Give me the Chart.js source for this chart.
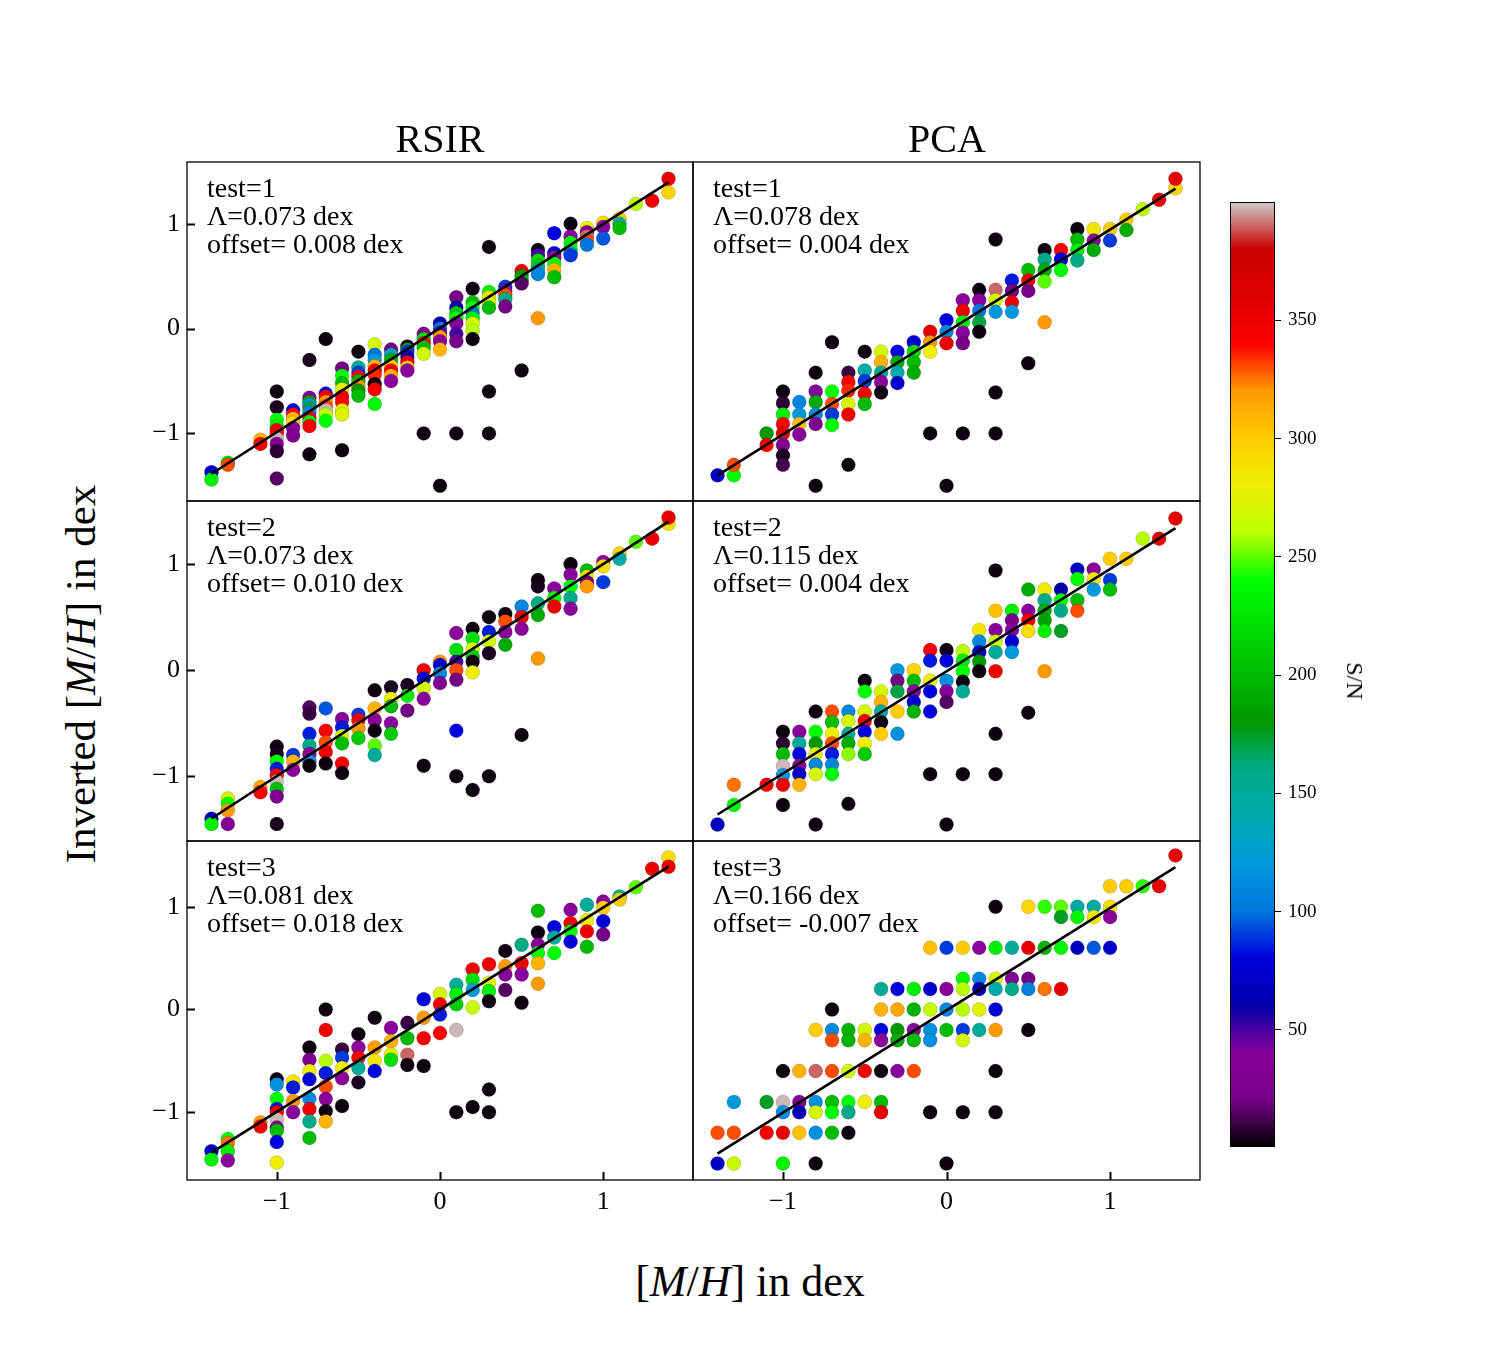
<!DOCTYPE html>
<html>
<head>
<meta charset="utf-8">
<script src="https://cdn.jsdelivr.net/npm/chart.js@4.4.0/dist/chart.umd.min.js"></script>
<style>
body{margin:0;background:#fff;}
#fig{position:relative;width:1500px;height:1350px;overflow:hidden;font-family:"Liberation Serif",serif;color:#000;}
#fig canvas{position:absolute;}
.txt{position:absolute;white-space:nowrap;line-height:1;}
</style>
</head>
<body>
<div id="fig"></div>
<script>
// labels / stats
var testLabels = ['test=1','test=2','test=3'];
var rsirLambda = ['0.073','0.073','0.081'];
var rsirOffset = ['0.008','0.010','0.018'];
var pcaLambda = ['0.078','0.115','0.166'];
var pcaOffset = ['0.004','0.004','-0.007'];
var xTicks = [-1,0,1];
var yTicks = [-1,0,1];
var snTicks = [50,100,150,200,250,300,350];
var snMin = 0.5, snMax = 400;
var xMin = -1.55, xMax = 1.55;
var rowYMin = [-1.645,-1.61,-1.66];
var rowYMax = [1.59,1.595,1.64];

// fitted lines [x0,y0,x1,y1]
var rsirFits = [[-1.4,-1.385,1.4,1.395],[-1.4,-1.398,1.4,1.40],[-1.4,-1.394,1.4,1.39]];
var pcaFits = [[-1.4,-1.40,1.4,1.335],[-1.4,-1.36,1.4,1.34],[-1.4,-1.404,1.4,1.385]];

// points: [true [M/H], inverted [M/H], S/N]
var rsirTest1 = [
[-1.4,-1.37,70],[-1.4,-1.44,230],
[-1.3,-1.28,220],[-1.3,-1.30,330],
[-1.1,-1.06,310],[-1.1,-1.10,345],
[-1.0,-0.60,3],[-1.0,-0.75,5],[-1.0,-0.87,240],[-1.0,-0.93,230],[-1.0,-0.97,350],[-1.0,-1.00,340],[-1.0,-1.05,398],[-1.0,-1.10,30],[-1.0,-1.17,8],[-1.0,-1.43,15],
[-0.9,-0.78,80],[-0.9,-0.82,340],[-0.9,-0.86,310],[-0.9,-0.90,290],[-0.9,-0.95,40],[-0.9,-1.02,30],
[-0.8,-0.30,5],[-0.8,-0.66,40],[-0.8,-0.70,180],[-0.8,-0.73,120],[-0.8,-0.76,170],[-0.8,-0.80,110],[-0.8,-0.85,350],[-0.8,-0.89,230],[-0.8,-0.93,345],[-0.8,-1.20,3],
[-0.7,-0.10,3],[-0.7,-0.62,80],[-0.7,-0.65,350],[-0.7,-0.70,320],[-0.7,-0.74,330],[-0.7,-0.78,398],[-0.7,-0.82,260],[-0.7,-0.88,240],
[-0.6,-0.38,20],[-0.6,-0.45,240],[-0.6,-0.52,200],[-0.6,-0.58,280],[-0.6,-0.65,350],[-0.6,-0.70,340],[-0.6,-0.78,270],[-0.6,-0.82,275],[-0.6,-1.16,3],
[-0.5,-0.22,3],[-0.5,-0.37,150],[-0.5,-0.42,90],[-0.5,-0.46,345],[-0.5,-0.50,190],[-0.5,-0.55,320],[-0.5,-0.59,180],[-0.5,-0.64,200],
[-0.4,-0.15,270],[-0.4,-0.25,100],[-0.4,-0.30,120],[-0.4,-0.36,310],[-0.4,-0.40,350],[-0.4,-0.44,335],[-0.4,-0.53,3],[-0.4,-0.58,345],[-0.4,-0.72,240],
[-0.3,-0.20,20],[-0.3,-0.25,130],[-0.3,-0.30,190],[-0.3,-0.36,300],[-0.3,-0.40,345],[-0.3,-0.45,310],[-0.3,-0.50,40],
[-0.2,-0.17,5],[-0.2,-0.20,190],[-0.2,-0.22,90],[-0.2,-0.27,60],[-0.2,-0.32,350],[-0.2,-0.37,300],[-0.2,-0.40,40],
[-0.1,-0.05,30],[-0.1,-0.10,220],[-0.1,-0.14,340],[-0.1,-0.18,200],[-0.1,-0.24,270],[-0.1,-1.00,3],
[0,0.05,60],[0,0.00,100],[0,-0.04,50],[0,-0.08,320],[0,-0.12,40],[0,-0.20,310],[0,-1.50,3],
[0.1,0.30,20],[0.1,0.20,60],[0.1,0.15,210],[0.1,0.10,240],[0.1,0.05,40],[0.1,-0.05,50],[0.1,-0.12,20],[0.1,-1.00,3],
[0.2,0.38,3],[0.2,0.25,200],[0.2,0.20,240],[0.2,0.15,100],[0.2,0.10,230],[0.2,0.05,270],[0.2,-0.02,260],[0.2,-0.10,3],
[0.3,0.78,3],[0.3,0.35,230],[0.3,0.30,290],[0.3,0.25,270],[0.3,0.20,200],[0.3,-0.60,3],[0.3,-1.00,3],
[0.4,0.40,90],[0.4,0.36,40],[0.4,0.32,330],[0.4,0.28,160],[0.4,0.21,20],
[0.5,0.55,350],[0.5,0.50,180],[0.5,0.46,200],[0.5,0.43,15],[0.5,-0.40,3],
[0.6,0.75,3],[0.6,0.70,50],[0.6,0.65,220],[0.6,0.60,210],[0.6,0.56,130],[0.6,0.52,110],[0.6,0.10,320],
[0.7,0.91,80],[0.7,0.72,80],[0.7,0.68,40],[0.7,0.62,240],[0.7,0.56,310],[0.7,0.49,200],
[0.8,1.00,3],[0.8,0.88,40],[0.8,0.82,230],[0.8,0.76,240],[0.8,0.72,140],[0.8,0.70,90],
[0.9,0.96,280],[0.9,0.92,40],[0.9,0.88,390],[0.9,0.84,330],[0.9,0.80,100],
[1.0,1.01,290],[1.0,0.97,40],[1.0,0.86,95],
[1.1,1.05,300],[1.1,1.00,150],[1.1,0.96,200],
[1.2,1.19,260],[1.3,1.22,350],[1.4,1.30,295],[1.4,1.43,355]
];

var pcaTest1 = [
[-1.4,-1.40,70],
[-1.3,-1.40,240],[-1.3,-1.30,330],
[-1.1,-1.00,180],[-1.1,-1.11,345],
[-1.0,-0.60,3],[-1.0,-0.71,8],[-1.0,-0.82,230],[-1.0,-0.91,345],[-1.0,-1.00,360],[-1.0,-1.11,30],[-1.0,-1.21,5],[-1.0,-1.30,12],
[-0.9,-0.70,110],[-0.9,-0.82,120],[-0.9,-0.91,305],[-0.9,-1.01,40],
[-0.8,-0.42,3],[-0.8,-0.60,35],[-0.8,-0.70,190],[-0.8,-0.82,110],[-0.8,-0.91,30],[-0.8,-1.50,3],
[-0.7,-0.13,3],[-0.7,-0.60,240],[-0.7,-0.72,330],[-0.7,-0.82,90],[-0.7,-0.92,240],
[-0.6,-0.42,10],[-0.6,-0.51,345],[-0.6,-0.59,335],[-0.6,-0.72,270],[-0.6,-0.82,350],[-0.6,-1.30,3],
[-0.5,-0.22,3],[-0.5,-0.40,140],[-0.5,-0.50,90],[-0.5,-0.62,345],[-0.5,-0.72,200],
[-0.4,-0.22,270],[-0.4,-0.32,310],[-0.4,-0.42,150],[-0.4,-0.51,40],[-0.4,-0.61,3],
[-0.3,-0.22,80],[-0.3,-0.32,190],[-0.3,-0.42,140],[-0.3,-0.52,75],
[-0.2,-0.13,75],[-0.2,-0.22,220],[-0.2,-0.32,200],[-0.2,-0.42,190],
[-0.1,-0.03,355],[-0.1,-0.13,320],[-0.1,-0.22,280],[-0.1,-1.00,3],
[0,0.08,80],[0,-0.03,110],[0,-0.14,350],[0,-1.50,3],
[0.1,0.27,40],[0.1,0.17,350],[0.1,0.06,230],[0.1,-0.04,40],[0.1,-0.14,20],[0.1,-1.00,3],
[0.2,0.37,3],[0.2,0.27,40],[0.2,0.17,100],[0.2,0.06,170],[0.2,-0.03,3],
[0.3,0.85,3],[0.3,0.37,390],[0.3,0.27,270],[0.3,0.16,120],[0.3,-0.61,3],[0.3,-1.00,3],
[0.4,0.46,85],[0.4,0.36,20],[0.4,0.25,350],[0.4,0.16,120],
[0.5,0.56,200],[0.5,0.46,350],[0.5,0.36,20],[0.5,-0.33,3],
[0.6,0.75,3],[0.6,0.66,160],[0.6,0.56,190],[0.6,0.45,250],[0.6,0.06,320],
[0.7,0.75,345],[0.7,0.66,80],[0.7,0.56,240],
[0.8,0.95,3],[0.8,0.85,200],[0.8,0.75,230],[0.8,0.65,160],
[0.9,0.95,285],[0.9,0.84,40],[0.9,0.75,190],
[1.0,0.95,300],[1.0,0.84,90],
[1.1,1.04,300],[1.1,0.94,190],
[1.2,1.14,260],[1.3,1.23,350],[1.4,1.34,295],[1.4,1.43,355]
];

var rsirTest2 = [
[-1.4,-1.40,70],[-1.4,-1.45,230],
[-1.3,-1.21,270],[-1.3,-1.26,240],[-1.3,-1.32,320],[-1.3,-1.45,35],
[-1.1,-1.10,315],[-1.1,-1.15,345],
[-1.0,-0.72,3],[-1.0,-0.79,5],[-1.0,-0.86,240],[-1.0,-0.93,85],[-1.0,-0.99,350],[-1.0,-1.05,398],[-1.0,-1.12,200],[-1.0,-1.19,30],[-1.0,-1.45,5],
[-0.9,-0.80,90],[-0.9,-0.86,310],[-0.9,-0.94,40],
[-0.8,-0.35,15],[-0.8,-0.41,10],[-0.8,-0.60,85],[-0.8,-0.71,160],[-0.8,-0.79,40],[-0.8,-0.86,120],[-0.8,-0.90,3],
[-0.7,-0.36,95],[-0.7,-0.57,345],[-0.7,-0.68,330],[-0.7,-0.77,350],[-0.7,-0.88,3],
[-0.6,-0.46,40],[-0.6,-0.54,85],[-0.6,-0.62,270],[-0.6,-0.69,200],[-0.6,-0.88,350],[-0.6,-0.97,3],
[-0.5,-0.42,90],[-0.5,-0.47,350],[-0.5,-0.55,320],[-0.5,-0.64,210],
[-0.4,-0.19,3],[-0.4,-0.36,310],[-0.4,-0.47,40],[-0.4,-0.57,3],[-0.4,-0.71,250],[-0.4,-0.80,150],
[-0.3,-0.16,5],[-0.3,-0.27,280],[-0.3,-0.34,200],[-0.3,-0.50,40],[-0.3,-0.60,210],
[-0.2,-0.14,5],[-0.2,-0.24,230],[-0.2,-0.38,20],
[-0.1,0.00,350],[-0.1,-0.08,80],[-0.1,-0.17,270],[-0.1,-0.27,40],[-0.1,-0.90,3],
[0,0.08,320],[0,0.05,75],[0,-0.03,110],[0,-0.12,30],
[0.1,0.35,40],[0.1,0.19,220],[0.1,0.08,50],[0.1,0.00,330],[0.1,-0.09,20],[0.1,-0.57,80],[0.1,-1.00,3],
[0.2,0.39,3],[0.2,0.30,220],[0.2,0.20,270],[0.2,0.13,210],[0.2,0.08,3],[0.2,-0.02,280],[0.2,-1.13,3],
[0.3,0.50,3],[0.3,0.36,85],[0.3,0.27,270],[0.3,0.16,5],[0.3,-1.00,3],
[0.4,0.53,3],[0.4,0.46,330],[0.4,0.36,40],[0.4,0.24,190],
[0.5,0.60,110],[0.5,0.50,350],[0.5,0.39,40],[0.5,-0.61,3],
[0.6,0.85,3],[0.6,0.79,5],[0.6,0.63,160],[0.6,0.52,190],[0.6,0.11,320],
[0.7,0.77,40],[0.7,0.68,240],[0.7,0.60,350],
[0.8,1.00,3],[0.8,0.90,40],[0.8,0.79,240],[0.8,0.68,160],[0.8,0.58,40],
[0.9,0.94,200],[0.9,0.88,290],[0.9,0.83,20],[0.9,0.79,320],
[1.0,1.02,40],[1.0,0.98,290],[1.0,0.83,90],
[1.1,1.10,295],[1.1,1.05,140],
[1.2,1.21,250],[1.3,1.24,350],[1.4,1.38,290],[1.4,1.44,355]
];

var pcaTest2 = [
[-1.4,-1.455,70],
[-1.3,-1.27,240],[-1.3,-1.08,325],
[-1.1,-1.08,345],
[-1.0,-0.58,3],[-1.0,-0.69,8],[-1.0,-0.79,200],[-1.0,-0.90,398],[-1.0,-0.99,120],[-1.0,-1.08,350],[-1.0,-1.27,3],
[-0.9,-0.58,40],[-0.9,-0.69,150],[-0.9,-0.79,80],[-0.9,-0.90,40],[-0.9,-0.98,70],[-0.9,-1.08,310],
[-0.8,-0.39,3],[-0.8,-0.58,240],[-0.8,-0.69,180],[-0.8,-0.79,280],[-0.8,-0.89,110],[-0.8,-0.98,270],[-0.8,-1.455,3],
[-0.7,-0.39,330],[-0.7,-0.49,200],[-0.7,-0.60,280],[-0.7,-0.69,330],[-0.7,-0.79,85],[-0.7,-0.89,110],[-0.7,-0.98,240],
[-0.6,-0.39,110],[-0.6,-0.48,270],[-0.6,-0.60,150],[-0.6,-0.69,190],[-0.6,-0.79,255],[-0.6,-1.26,3],
[-0.5,-0.10,3],[-0.5,-0.20,240],[-0.5,-0.39,270],[-0.5,-0.48,350],[-0.5,-0.58,80],[-0.5,-0.69,280],[-0.5,-0.79,210],
[-0.4,-0.20,270],[-0.4,-0.30,310],[-0.4,-0.39,150],[-0.4,-0.49,3],[-0.4,-0.60,300],
[-0.3,0.00,120],[-0.3,-0.10,20],[-0.3,-0.20,170],[-0.3,-0.39,300],[-0.3,-0.60,115],
[-0.2,0.00,295],[-0.2,-0.10,200],[-0.2,-0.20,40],[-0.2,-0.30,75],[-0.2,-0.39,195],
[-0.1,0.19,345],[-0.1,0.09,85],[-0.1,-0.10,280],[-0.1,-0.20,80],[-0.1,-0.39,80],[-0.1,-0.98,3],
[0,0.19,3],[0,0.09,80],[0,-0.10,115],[0,-0.20,40],[0,-0.30,15],[0,-1.455,3],
[0.1,0.18,260],[0.1,0.09,230],[0.1,-0.01,240],[0.1,-0.11,3],[0.1,-0.20,150],[0.1,-0.98,3],
[0.2,0.38,285],[0.2,0.27,110],[0.2,0.17,70],[0.2,0.08,180],[0.2,-0.01,3],
[0.3,0.94,3],[0.3,0.56,305],[0.3,0.38,40],[0.3,0.27,265],[0.3,0.17,150],[0.3,-0.01,350],[0.3,-0.60,3],[0.3,-0.98,3],
[0.4,0.56,230],[0.4,0.47,25],[0.4,0.38,40],[0.4,0.27,75],[0.4,0.17,120],
[0.5,0.76,190],[0.5,0.56,40],[0.5,0.47,350],[0.5,0.37,290],[0.5,-0.40,3],
[0.6,0.76,280],[0.6,0.66,160],[0.6,0.56,190],[0.6,0.47,185],[0.6,0.37,230],[0.6,-0.01,320],
[0.7,0.76,60],[0.7,0.66,240],[0.7,0.56,160],[0.7,0.37,175],
[0.8,0.95,70],[0.8,0.86,240],[0.8,0.66,200],[0.8,0.56,330],
[0.9,0.95,40],[0.9,0.86,285],[0.9,0.76,120],
[1.0,1.05,300],[1.0,0.85,90],[1.0,0.76,200],
[1.1,1.05,300],[1.2,1.24,260],[1.3,1.24,350],[1.4,1.43,355]
];

var rsirTest3 = [
[-1.4,-1.38,70],[-1.4,-1.46,230],
[-1.3,-1.26,240],[-1.3,-1.30,325],[-1.3,-1.38,230],[-1.3,-1.47,40],
[-1.1,-1.10,320],[-1.1,-1.14,345],
[-1.0,-0.68,3],[-1.0,-0.73,115],[-1.0,-0.87,240],[-1.0,-0.97,85],[-1.0,-1.00,350],[-1.0,-1.07,398],[-1.0,-1.15,30],[-1.0,-1.18,200],[-1.0,-1.29,80],[-1.0,-1.49,280],
[-0.9,-0.70,285],[-0.9,-0.76,85],[-0.9,-0.89,320],[-0.9,-1.00,40],
[-0.8,-0.37,3],[-0.8,-0.49,30],[-0.8,-0.60,280],[-0.8,-0.68,80],[-0.8,-0.87,110],[-0.8,-0.97,350],[-0.8,-1.09,160],[-0.8,-1.25,200],
[-0.7,0.00,3],[-0.7,-0.20,350],[-0.7,-0.50,260],[-0.7,-0.62,85],[-0.7,-0.75,330],[-0.7,-0.87,40],[-0.7,-0.99,3],[-0.7,-1.09,310],
[-0.6,-0.39,10],[-0.6,-0.47,90],[-0.6,-0.57,280],[-0.6,-0.67,40],[-0.6,-0.94,3],
[-0.5,-0.24,3],[-0.5,-0.37,40],[-0.5,-0.47,345],[-0.5,-0.57,150],[-0.5,-0.71,5],
[-0.4,-0.08,3],[-0.4,-0.37,320],[-0.4,-0.50,285],[-0.4,-0.60,80],
[-0.3,-0.18,40],[-0.3,-0.31,310],[-0.3,-0.44,270],[-0.3,-0.49,220],
[-0.2,-0.13,10],[-0.2,-0.28,200],[-0.2,-0.44,390],[-0.2,-0.54,3],
[-0.1,0.10,80],[-0.1,-0.08,320],[-0.1,-0.28,345],[-0.1,-0.55,3],
[0,0.15,270],[0,0.05,350],[0,-0.05,85],[0,-0.23,345],
[0.1,0.24,150],[0.1,0.15,230],[0.1,0.05,210],[0.1,-0.20,398],[0.1,-1.00,3],
[0.2,0.39,350],[0.2,0.29,220],[0.2,0.19,120],[0.2,0.02,265],[0.2,-0.95,3],
[0.3,0.44,350],[0.3,0.26,280],[0.3,0.18,230],[0.3,0.08,3],[0.3,-0.78,3],[0.3,-1.00,3],
[0.4,0.57,3],[0.4,0.42,320],[0.4,0.34,40],[0.4,0.19,15],
[0.5,0.63,160],[0.5,0.45,350],[0.5,0.34,40],[0.5,0.065,3],
[0.6,0.96,200],[0.6,0.75,3],[0.6,0.63,40],[0.6,0.55,240],[0.6,0.45,310],[0.6,0.25,320],
[0.7,0.80,80],[0.7,0.70,150],[0.7,0.55,240],
[0.8,0.97,40],[0.8,0.84,350],[0.8,0.76,240],[0.8,0.66,80],
[0.9,1.02,150],[0.9,0.87,280],[0.9,0.76,350],[0.9,0.61,200],
[1.0,1.05,40],[1.0,0.99,300],[1.0,0.86,80],[1.0,0.73,20],
[1.1,1.10,150],[1.1,1.07,300],
[1.2,1.19,250],[1.3,1.37,350],[1.4,1.48,290],[1.4,1.39,355]
];

var pcaTest3 = [
[-1.4,-1.2,330],[-1.4,-1.5,70],
[-1.3,-0.9,120],[-1.3,-1.2,330],[-1.3,-1.5,265],
[-1.1,-0.9,175],[-1.1,-1.2,345],
[-1.0,-0.6,3],[-1.0,-0.9,398],[-1.0,-1.0,115],[-1.0,-1.2,355],[-1.0,-1.5,235],
[-0.9,-0.6,310],[-0.9,-0.9,35],[-0.9,-1.0,65],[-0.9,-1.2,305],
[-0.8,-0.2,300],[-0.8,-0.6,390],[-0.8,-0.9,115],[-0.8,-1.0,270],[-0.8,-1.2,115],[-0.8,-1.5,3],
[-0.7,0.0,3],[-0.7,-0.2,110],[-0.7,-0.3,330],[-0.7,-0.6,330],[-0.7,-0.9,200],[-0.7,-1.0,240],[-0.7,-1.2,200],
[-0.6,-0.2,195],[-0.6,-0.3,195],[-0.6,-0.6,270],[-0.6,-0.9,240],[-0.6,-1.0,160],[-0.6,-1.2,3],
[-0.5,-0.2,270],[-0.5,-0.3,310],[-0.5,-0.6,350],[-0.5,-0.9,280],
[-0.4,0.2,150],[-0.4,0.0,310],[-0.4,-0.2,80],[-0.4,-0.3,40],[-0.4,-0.6,3],[-0.4,-0.9,200],[-0.4,-1.0,355],
[-0.3,0.2,80],[-0.3,0.0,315],[-0.3,-0.2,180],[-0.3,-0.3,190],[-0.3,-0.6,40],
[-0.2,0.2,230],[-0.2,0.0,195],[-0.2,-0.2,40],[-0.2,-0.3,200],[-0.2,-0.6,330],
[-0.1,0.6,305],[-0.1,0.2,75],[-0.1,0.0,265],[-0.1,-0.2,115],[-0.1,-0.3,115],[-0.1,-1.0,3],
[0,0.6,90],[0,0.2,40],[0,0.0,110],[0,-0.2,200],[0,-1.5,3],
[0.1,0.6,300],[0.1,0.3,235],[0.1,0.2,260],[0.1,0.0,260],[0.1,-0.2,90],[0.1,-0.3,270],[0.1,-1.0,3],
[0.2,0.6,40],[0.2,0.3,110],[0.2,0.2,60],[0.2,0.0,275],[0.2,-0.2,150],
[0.3,1.0,3],[0.3,0.6,230],[0.3,0.3,270],[0.3,0.2,140],[0.3,0.0,75],[0.3,-0.2,320],[0.3,-0.6,3],[0.3,-1.0,3],
[0.4,0.6,150],[0.4,0.3,30],[0.4,0.2,160],
[0.5,1.0,295],[0.5,0.6,355],[0.5,0.3,20],[0.5,0.2,105],[0.5,-0.2,3],
[0.6,1.0,245],[0.6,0.6,195],[0.6,0.2,325],
[0.7,1.0,250],[0.7,0.9,175],[0.7,0.6,235],[0.7,0.2,355],
[0.8,1.0,145],[0.8,0.9,235],[0.8,0.6,70],
[0.9,1.0,145],[0.9,0.9,285],[0.9,0.6,95],
[1.0,1.2,300],[1.0,1.0,290],[1.0,0.9,40],[1.0,0.6,75],
[1.1,1.2,300],[1.2,1.2,245],[1.3,1.2,350],[1.4,1.5,355]
];

// nipy_spectral colour map
var cmapStops = [[0,0,0,0],[0.05,0.4667,0,0.5333],[0.10,0.5333,0,0.6],[0.15,0,0,0.6667],[0.20,0,0,0.8667],
[0.25,0,0.4667,0.8667],[0.30,0,0.6,0.8667],[0.35,0,0.6667,0.6667],[0.40,0,0.6667,0.5333],[0.45,0,0.6,0],
[0.50,0,0.7333,0],[0.55,0,0.8667,0],[0.60,0,1,0],[0.65,0.7333,1,0],[0.70,0.9333,0.9333,0],[0.75,1,0.8,0],
[0.80,1,0.6,0],[0.85,1,0,0],[0.90,0.8667,0,0],[0.95,0.8,0,0],[1,0.8,0.8,0.8]];

function snColor(v){
	var t = (v - snMin) / (snMax - snMin);
	t = Math.max(0, Math.min(1, t));
	for(var i = 1; i < cmapStops.length; i++){
		if(t <= cmapStops[i][0]){
			var a = cmapStops[i-1], b = cmapStops[i];
			var f = (t - a[0]) / (b[0] - a[0]);
			var c = [1,2,3].map(function(k){ return Math.round(255*(a[k] + f*(b[k]-a[k]))); });
			return 'rgb(' + c.join(',') + ')';
		}
	}
	return 'rgb(204,204,204)';
}

function tickText(v){ return v < 0 ? '\u2212' + Math.abs(v) : String(v); }

// fix axis box size and drop chart.js label overflow padding
function fixSize(prop, size){
	return function(s){
		if(s.options.display) s[prop] = size;
		s.paddingTop = 0; s.paddingBottom = 0; s.paddingLeft = 0; s.paddingRight = 0;
	};
}

var fig = document.getElementById('fig');
var FONT = '"Liberation Serif", serif';
var colLeft = [187,693], colRight = [693,1200];
var rowTop = [162,501,841], rowBottom = [501,841,1180];

function addText(html, x, baseline, size, align){
	var d = document.createElement('div');
	d.className = 'txt';
	d.innerHTML = html;
	d.style.fontSize = size + 'px';
	d.style.top = (baseline - 0.8375*size) + 'px';
	d.style.left = x + 'px';
	if(align === 'center') d.style.transform = 'translateX(-50%)';
	fig.appendChild(d);
	return d;
}

// frame + inward ticks
var framePlugin = {
	id: 'frame',
	afterDraw: function(chart){
		var ctx = chart.ctx, a = chart.chartArea, s = chart.scales;
		ctx.save();
		ctx.strokeStyle = '#000';
		ctx.lineWidth = 1.3;
		ctx.strokeRect(a.left, a.top, a.right - a.left, a.bottom - a.top);
		ctx.lineWidth = 2;
		if(s.y.options.display){
			yTicks.forEach(function(v){
				var py = Math.round(s.y.getPixelForValue(v)) + 0.5;
				ctx.beginPath(); ctx.moveTo(a.left, py); ctx.lineTo(a.left + 8, py); ctx.stroke();
			});
		}
		if(s.x.options.display){
			xTicks.forEach(function(v){
				var px = Math.round(s.x.getPixelForValue(v)) + 0.5;
				ctx.beginPath(); ctx.moveTo(px, a.bottom); ctx.lineTo(px, a.bottom - 8); ctx.stroke();
			});
		}
		ctx.restore();
	}
};

function makePanel(points, fit, row, col, lam, off){
	var isLeft = col === 0, isBottom = row === 2;
	var padL = isLeft ? 70 : 3;
	var padB = isBottom ? 50 : 3;
	var w = colRight[col] - colLeft[col];
	var h = rowBottom[row] - rowTop[row];
	var cv = document.createElement('canvas');
	cv.width = padL + w + 3;
	cv.height = 2 + h + padB;
	cv.style.left = (colLeft[col] - padL) + 'px';
	cv.style.top = (rowTop[row] - 2) + 'px';
	fig.appendChild(cv);

	var tickFont = {family: FONT, size: 26};
	new Chart(cv, {
		type: 'scatter',
		data: {
			datasets: [
				{
					type: 'line',
					data: [{x: fit[0], y: fit[1]}, {x: fit[2], y: fit[3]}],
					borderColor: '#000',
					borderWidth: 2.6,
					pointRadius: 0,
					fill: false,
					order: 0
				},
				{
					data: points.map(function(p){ return {x: p[0], y: p[1]}; }),
					backgroundColor: points.map(function(p){ return snColor(p[2]); }),
					borderColor: 'rgba(0,0,0,0.25)',
					borderWidth: 0.6,
					pointRadius: 7,
					order: 1
				}
			]
		},
		options: {
			responsive: false,
			animation: false,
			devicePixelRatio: 1,
			events: [],
			layout: {autoPadding: false, padding: {left: isLeft ? 0 : 3, right: 3, top: 2, bottom: isBottom ? 0 : 3}},
			plugins: {legend: {display: false}, tooltip: {enabled: false}},
			scales: {
				x: {
					type: 'linear', min: xMin, max: xMax, display: isBottom,
					grid: {display: false, drawTicks: false}, border: {display: false},
					afterBuildTicks: function(s){ s.ticks = xTicks.map(function(v){ return {value: v}; }); },
					afterFit: fixSize('height', 50),
					ticks: {color: '#000', font: tickFont, padding: 7, maxRotation: 0, callback: tickText}
				},
				y: {
					type: 'linear', min: rowYMin[row], max: rowYMax[row], display: isLeft,
					grid: {display: false, drawTicks: false}, border: {display: false},
					afterBuildTicks: function(s){ s.ticks = yTicks.map(function(v){ return {value: v}; }); },
					afterFit: fixSize('width', 70),
					ticks: {color: '#000', font: tickFont, padding: 7, callback: tickText}
				}
			}
		},
		plugins: [framePlugin]
	});

	var tx = colLeft[col] + 20, tb = rowTop[row] + 35;
	addText(testLabels[row], tx, tb, 28);
	addText('\u039B=' + lam + ' dex', tx, tb + 28, 28);
	addText('offset= ' + off + ' dex', tx, tb + 56, 28);
}

for(var r = 0; r < 3; r++){
	var rs = [rsirTest1, rsirTest2, rsirTest3][r];
	var pc = [pcaTest1, pcaTest2, pcaTest3][r];
	makePanel(rs, rsirFits[r], r, 0, rsirLambda[r], rsirOffset[r]);
	makePanel(pc, pcaFits[r], r, 1, pcaLambda[r], pcaOffset[r]);
}

// colour bar
var cb = document.createElement('canvas');
cb.width = 2 + 45 + 70;
cb.height = 2 + 945 + 2;
cb.style.left = '1228px';
cb.style.top = '200px';
fig.appendChild(cb);
new Chart(cb, {
	type: 'bar',
	data: {
		labels: ['S/N'],
		datasets: [{
			data: [[snMin, snMax]],
			backgroundColor: function(c){
				var ch = c.chart;
				if(!ch.chartArea || !ch.scales.y) return '#000';
				var g = ch.ctx.createLinearGradient(0, ch.scales.y.getPixelForValue(snMin), 0, ch.scales.y.getPixelForValue(snMax));
				for(var i = 0; i <= 80; i++){
					var t = i / 80;
					g.addColorStop(t, snColor(snMin + t*(snMax - snMin)));
				}
				return g;
			},
			borderWidth: 0,
			barPercentage: 1,
			categoryPercentage: 1
		}]
	},
	options: {
		responsive: false,
		animation: false,
		devicePixelRatio: 1,
		events: [],
		layout: {autoPadding: false, padding: {left: 2, right: 0, top: 2, bottom: 2}},
		plugins: {legend: {display: false}, tooltip: {enabled: false}},
		scales: {
			x: {display: false, afterFit: fixSize('height', 0)},
			y: {
				position: 'right', min: snMin, max: snMax,
				afterBuildTicks: function(s){ s.ticks = snTicks.map(function(v){ return {value: v}; }); },
				afterFit: fixSize('width', 70),
				grid: {drawOnChartArea: false, drawTicks: true, tickLength: 6, color: '#000', lineWidth: 1},
				border: {display: false},
				ticks: {color: '#000', font: {family: FONT, size: 19}, padding: 7}
			}
		}
	},
	plugins: [{
		id: 'cbframe',
		afterDraw: function(chart){
			var a = chart.chartArea, ctx = chart.ctx;
			ctx.save(); ctx.strokeStyle = '#000'; ctx.lineWidth = 1;
			ctx.strokeRect(a.left + 0.5, a.top + 0.5, a.right - a.left - 1, a.bottom - a.top - 1);
			ctx.restore();
		}
	}]
});

// titles and axis labels
addText('RSIR', 440, 152, 40, 'center');
addText('PCA', 947, 152, 40, 'center');
addText('[<i>M</i>/<i>H</i>] in dex', 750, 1297, 44, 'center');
var yl = addText('Inverted [<i>M</i>/<i>H</i>] in dex', 0, 0, 43);
yl.style.left = '80px'; yl.style.top = '674px';
yl.style.transform = 'translate(-50%,-50%) rotate(-90deg)';
var sl = addText('S/N', 0, 0, 24);
sl.style.left = '1355px'; sl.style.top = '681px';
sl.style.transform = 'translate(-50%,-50%) rotate(90deg)';
</script>
</body>
</html>
